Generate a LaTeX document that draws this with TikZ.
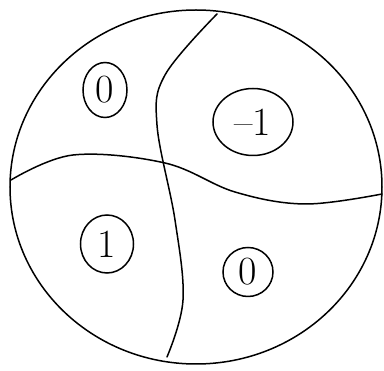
\documentclass[tikz,border=0pt]{standalone}
\usepackage{tikz}
\usetikzlibrary{shapes.geometric}

\tikzset{
  region/.style={ellipse, draw, line width=1.5pt, inner sep=0pt, font=\fontsize{40}{40}\selectfont},
  pen/.style={line width=1.5pt, line cap=round, line join=round}
}

\begin{document}
\begin{tikzpicture}[x=1pt, y=-1pt]
    \useasboundingbox (0,0) rectangle (384,371);

    % Outer disc
    \node[ellipse, draw, line width=1.5pt, minimum width=372pt, minimum height=354pt] (disc) at (196,187) {};

    % Dividing curves
    \coordinate (top) at (217,14);
    \coordinate (bottom) at (167,357);
    \coordinate (west) at (11,180);
    \coordinate (east) at (382,194);
    \draw[pen] plot[smooth, tension=0.6] coordinates {
      (top) (165,75) (157,125) (175,220) (183,300) (bottom)};
    \draw[pen] plot[smooth, tension=0.6] coordinates {
      (west) (73,155) (165,163) (235,192) (305,204) (east)};

    % Region values
    \node[region, minimum width=44pt, minimum height=55pt] (nw) at (105,90) {0};
    \node[region, minimum width=80pt, minimum height=67pt] (ne) at (253,122) {\textendash1};
    \node[region, minimum width=53pt, minimum height=58pt] (sw) at (107,244) {1};
    \node[region, minimum width=50pt, minimum height=49pt] (se) at (248,272) {0};
  \end{tikzpicture}
\end{document}
